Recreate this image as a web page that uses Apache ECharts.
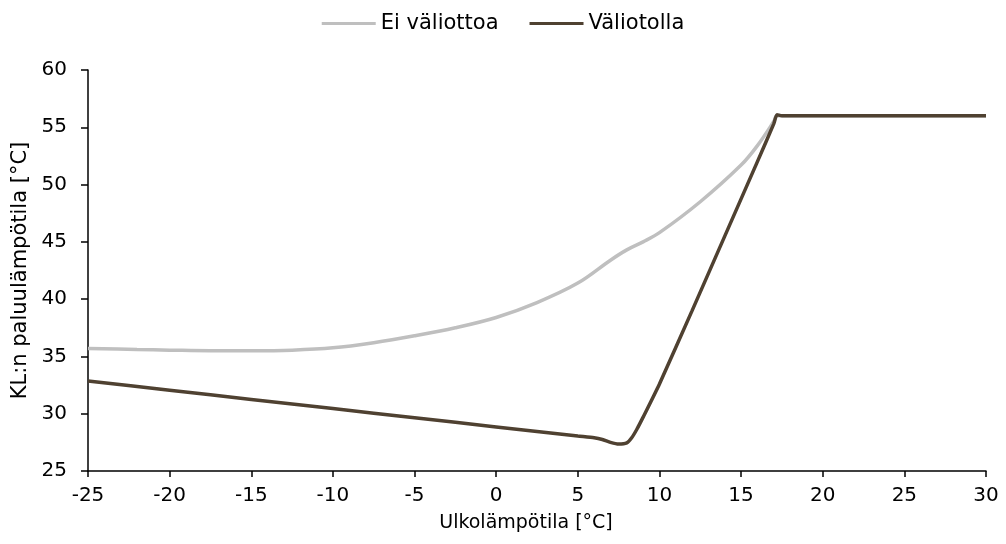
<!DOCTYPE html>
<html><head><meta charset="utf-8">
<script src="https://cdn.jsdelivr.net/npm/echarts@6/dist/echarts.min.js"></script>
<style>html,body{margin:0;padding:0;background:#fff}#c{width:1006px;height:544px}</style>
</head><body><div id="c"></div>
<script>
const seriesNames = ['Ei väliottoa', 'Väliotolla'];
const xTicks = { min: -25, max: 30, interval: 5 };
const yTicks = { min: 25, max: 60, interval: 5 };
const eiValiottoaX = [-25, -22, -20, -17.5, -15, -12.5, -10, -7.5, -5, -2.5, 0, 2.5, 5, 7, 8, 9, 10, 12.5, 15, 16, 17, 17.2, 18, 30];
const eiValiottoaY = [35.7, 35.6, 35.55, 35.5, 35.5, 35.55, 35.75, 36.2, 36.8, 37.5, 38.4, 39.7, 41.4, 43.4, 44.3, 45.0, 45.8, 48.5, 51.7, 53.4, 55.5, 56.0, 56.0, 56.0];
const valiotollaX = [-25, -20, -15, -10, -5, 0, 5, 6, 6.5, 7, 7.5, 8, 8.3, 8.6, 9, 10, 12, 14, 16, 17, 17.2, 17.5, 30];
const valiotollaY = [32.85, 32.05, 31.25, 30.45, 29.65, 28.85, 28.05, 27.9, 27.75, 27.5, 27.35, 27.45, 27.9, 28.6, 29.7, 32.6, 39.0, 45.5, 52.0, 55.3, 56.1, 56.0, 56.0];

const pair = (xs, ys) => xs.map((x, i) => [x, ys[i]]);
const font = 'DejaVu Sans';
const chart = echarts.init(document.getElementById('c'), null, { renderer: 'canvas' });
chart.setOption({
  animation: false,
  backgroundColor: '#ffffff',
  textStyle: { fontFamily: font, color: '#000' },
  legend: {
    top: 8, left: 'center', itemGap: 31, itemWidth: 54, itemHeight: 3, icon: 'rect',
    textStyle: { fontFamily: font, fontSize: 21, color: '#000' },
    data: seriesNames
  },
  grid: { left: 88, right: 20, top: 70, bottom: 73, containLabel: false },
  xAxis: {
    type: 'value', min: xTicks.min, max: xTicks.max, interval: xTicks.interval,
    name: 'Ulkolämpötila [°C]', nameLocation: 'middle', nameGap: 43,
    nameTextStyle: { fontFamily: font, fontSize: 19, color: '#000', padding: [0, 22, 0, 0] },
    axisLine: { show: true, onZero: false, lineStyle: { color: '#000', width: 1.5 } },
    axisTick: { show: true, inside: false, length: 6, lineStyle: { color: '#000', width: 1.5 } },
    axisLabel: { fontFamily: font, fontSize: 20, color: '#000', margin: 15 },
    splitLine: { show: false }
  },
  yAxis: {
    type: 'value', min: yTicks.min, max: yTicks.max, interval: yTicks.interval,
    name: 'KL:n paluulämpötila [°C]', nameLocation: 'middle', nameGap: 56, nameRotate: 90,
    nameTextStyle: { fontFamily: font, fontSize: 21, color: '#000' },
    axisLine: { show: true, onZero: false, lineStyle: { color: '#000', width: 1.5 } },
    axisTick: { show: true, inside: false, length: 7, lineStyle: { color: '#000', width: 1.5 } },
    axisLabel: { fontFamily: font, fontSize: 20, color: '#000', margin: 21 },
    splitLine: { show: false }
  },
  series: [
    { name: seriesNames[0], type: 'line', data: pair(eiValiottoaX, eiValiottoaY), showSymbol: false, smooth: 0.35,
      lineStyle: { color: '#BFBFBF', width: 3.5 }, itemStyle: { color: '#BFBFBF' } },
    { name: seriesNames[1], type: 'line', data: pair(valiotollaX, valiotollaY), showSymbol: false, smooth: 0.2,
      lineStyle: { color: '#4F4131', width: 3.5 }, itemStyle: { color: '#4F4131' } }
  ]
});
</script></body></html>
